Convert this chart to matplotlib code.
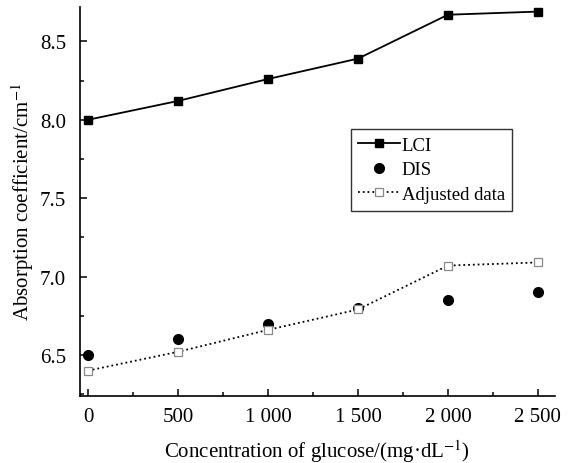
import numpy as np
import matplotlib.pyplot as plt
from matplotlib.ticker import MultipleLocator, FuncFormatter

plt.rcParams['font.family'] = ['Liberation Serif', 'DejaVu Serif']
plt.rcParams['mathtext.fontset'] = 'stix'

# data
glucose = [0, 500, 1000, 1500, 2000, 2500]
lci = [8.00, 8.12, 8.26, 8.39, 8.67, 8.69]
dis = [6.50, 6.60, 6.70, 6.80, 6.85, 6.90]
adjusted = [6.40, 6.52, 6.66, 6.79, 7.07, 7.09]

fig = plt.figure(figsize=(5.72, 4.64), dpi=100)
ax = fig.add_axes([0.14, 0.144, 0.83, 0.839])

ax.plot(glucose, lci, '-', color='black', lw=1.3, marker='s', ms=6,
        mfc='black', mec='black', label='LCI')
ax.plot(glucose, dis, 'o', color='black', ms=7, ls='none', label='DIS')
ax.plot(glucose, adjusted, ':', color='black', lw=1.3, marker='s', ms=6,
        mfc='white', mec='#888888', mew=0.9, label='Adjusted data')

ax.set_xlim(-44, 2594)
ax.set_ylim(6.237, 8.72)
ax.xaxis.set_major_locator(MultipleLocator(500))
ax.xaxis.set_minor_locator(MultipleLocator(250))
ax.yaxis.set_major_locator(MultipleLocator(0.5))
ax.yaxis.set_minor_locator(MultipleLocator(0.25))

def fmt_x(v, pos):
    v = int(round(v))
    return f'{v:,}'.replace(',', ' ') if v >= 1000 else str(v)

ax.xaxis.set_major_formatter(FuncFormatter(fmt_x))
ax.yaxis.set_major_formatter(FuncFormatter(lambda v, p: f'{v:.1f}'))

for s in ['top', 'right']:
    ax.spines[s].set_visible(False)
for s in ['left', 'bottom']:
    ax.spines[s].set_linewidth(1.2)

ax.tick_params(which='both', direction='in', labelsize=15, width=1.1)
ax.tick_params(which='major', length=5)
ax.tick_params(which='minor', length=3)
ax.tick_params(axis='x', pad=8)
ax.tick_params(axis='y', pad=10)

ax.set_xlabel('Concentration of glucose/(mg·dL$^{-1}$)', fontsize=15, labelpad=8)
ax.set_ylabel('Absorption coefficient/cm$^{-1}$', fontsize=15, labelpad=3)

leg = ax.legend(loc='upper left', bbox_to_anchor=(0.5705, 0.686), fontsize=13.5,
                frameon=True, fancybox=False, edgecolor='black',
                handlelength=2.2, handletextpad=0.1, borderpad=0.4,
                labelspacing=0.4, borderaxespad=0)
leg.get_frame().set_linewidth(1.0)

fig.savefig('out.png', dpi=100)
